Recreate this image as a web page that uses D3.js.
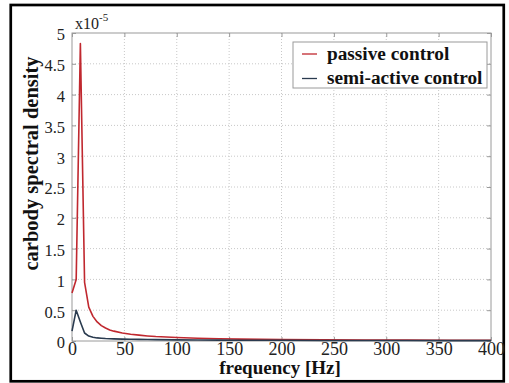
<!DOCTYPE html>
<html>
<head>
<meta charset="utf-8">
<script src="https://cdn.jsdelivr.net/npm/d3@7"></script>
<style>
  html, body { margin: 0; padding: 0; background: #fff; }
  svg { display: block; }
</style>
</head>
<body>
<svg id="chart" width="509" height="383"></svg>
<script>
// Frequency samples [Hz]
const frequency = [0, 4, 8, 12, 16, 20, 24, 28, 32, 36, 40, 48, 56, 64, 72, 80,
                   100, 120, 140, 160, 200, 240, 280, 320, 360, 400];
// Carbody spectral density, in units of 1e-5
const passiveControl = [0.78, 1.0, 4.83, 0.95, 0.55, 0.40, 0.31, 0.25, 0.21, 0.18, 0.16,
                        0.13, 0.11, 0.095, 0.082, 0.072, 0.056, 0.045, 0.037, 0.031,
                        0.024, 0.019, 0.016, 0.014, 0.012, 0.011];
const semiActiveControl = [0.16, 0.50, 0.31, 0.13, 0.08, 0.06, 0.05, 0.045, 0.04, 0.037, 0.035,
                           0.031, 0.028, 0.026, 0.024, 0.022, 0.019, 0.016, 0.014, 0.013,
                           0.011, 0.009, 0.008, 0.007, 0.006, 0.006];
const xTicks = [0, 50, 100, 150, 200, 250, 300, 350, 400];
const yTicks = [0, 0.5, 1, 1.5, 2, 2.5, 3, 3.5, 4, 4.5, 5];
const seriesNames = ["passive control", "semi-active control"];
const seriesColors = ["#c0282f", "#2a3b4f"];

const serif = "'Liberation Serif', 'Times New Roman', serif";
const svg = d3.select("#chart");
const plotLeft = 72, plotRight = 491, plotTop = 33, plotBottom = 341;

const x = d3.scaleLinear().domain([0, 400]).range([plotLeft, plotRight]);
const y = d3.scaleLinear().domain([0, 5]).range([plotBottom, plotTop]);

// outer frame
svg.append("rect")
  .attr("x", 10.75).attr("y", 5).attr("width", 493).attr("height", 376.3)
  .attr("fill", "none").attr("stroke", "#000").attr("stroke-width", 2.7);

// dotted grid
const grid = svg.append("g").attr("stroke", "#c8c8c8").attr("stroke-dasharray", "1,2").attr("stroke-width", 1);
grid.selectAll("line.v").data(xTicks.slice(1, -1)).join("line")
  .attr("x1", d => x(d)).attr("x2", d => x(d)).attr("y1", plotTop).attr("y2", plotBottom);
grid.selectAll("line.h").data(yTicks.slice(1, -1)).join("line")
  .attr("x1", plotLeft).attr("x2", plotRight).attr("y1", d => y(d)).attr("y2", d => y(d));

// axes (inward ticks on all four sides)
const axisColor = "#9a9a9a";
function styleAxis(g) {
  g.attr("font-family", serif);
  g.select(".domain").remove();
  g.selectAll(".tick line").attr("stroke", axisColor);
  g.selectAll(".tick text").attr("font-family", serif).attr("fill", "#222");
}
svg.append("g").attr("transform", `translate(0,${plotBottom})`)
  .call(d3.axisBottom(x).tickValues(xTicks).tickSize(-4).tickFormat(d3.format("d")))
  .call(styleAxis)
  .call(g => g.selectAll(".tick text").attr("font-size", 18).attr("y", 0).attr("dy", 13.5));
svg.append("g").attr("transform", `translate(0,${plotTop})`)
  .call(d3.axisTop(x).tickValues(xTicks).tickSize(-4).tickFormat(""))
  .call(styleAxis);
svg.append("g").attr("transform", `translate(${plotLeft},0)`)
  .call(d3.axisLeft(y).tickValues(yTicks).tickSize(-4).tickPadding(7).tickFormat(d3.format("~g")))
  .call(styleAxis)
  .call(g => g.selectAll(".tick text").attr("font-size", 16.5).attr("dy", "0.42em"));
svg.append("g").attr("transform", `translate(${plotRight},0)`)
  .call(d3.axisRight(y).tickValues(yTicks).tickSize(-4).tickFormat(""))
  .call(styleAxis);

// plot box
svg.append("rect")
  .attr("x", plotLeft).attr("y", plotTop).attr("width", plotRight - plotLeft).attr("height", plotBottom - plotTop)
  .attr("fill", "none").attr("stroke", axisColor).attr("stroke-width", 1);

// exponent label
const expo = svg.append("text")
  .attr("x", 75).attr("y", 29)
  .attr("font-family", serif)
  .attr("font-size", 16).attr("fill", "#222");
expo.append("tspan").text("x10");
expo.append("tspan").attr("font-size", 11).attr("dy", -8).text("-5");

// series lines
const line = d3.line().x((d, i) => x(frequency[i])).y(d => y(d));
[passiveControl, semiActiveControl].forEach((vals, k) => {
  svg.append("path").datum(vals)
    .attr("d", line)
    .attr("fill", "none")
    .attr("stroke", seriesColors[k])
    .attr("stroke-width", 1.6)
    .attr("stroke-linejoin", "round");
});

// axis titles
svg.append("text")
  .attr("x", 280).attr("y", 374)
  .attr("text-anchor", "middle")
  .attr("font-family", serif)
  .attr("font-weight", "bold").attr("font-size", 19).attr("fill", "#111")
  .text("frequency [Hz]");
svg.append("text")
  .attr("transform", "translate(38,163.5) rotate(-90)")
  .attr("text-anchor", "middle")
  .attr("font-family", serif)
  .attr("font-weight", "bold").attr("font-size", 20.5).attr("fill", "#111")
  .text("carbody spectral density");

// legend
const legend = svg.append("g");
legend.append("rect")
  .attr("x", 293).attr("y", 42).attr("width", 194).attr("height", 46)
  .attr("fill", "#fff").attr("stroke", axisColor).attr("stroke-width", 1);
const rows = [54, 78.5];
seriesNames.forEach((name, k) => {
  legend.append("line")
    .attr("x1", 302).attr("x2", 317).attr("y1", rows[k]).attr("y2", rows[k])
    .attr("stroke", seriesColors[k]).attr("stroke-width", 1.3);
  legend.append("text")
    .attr("x", 327).attr("y", rows[k] + 5.5)
    .attr("font-family", serif)
    .attr("font-weight", "bold").attr("font-size", 19.3).attr("fill", "#111")
    .text(name);
});
</script>
</body>
</html>
